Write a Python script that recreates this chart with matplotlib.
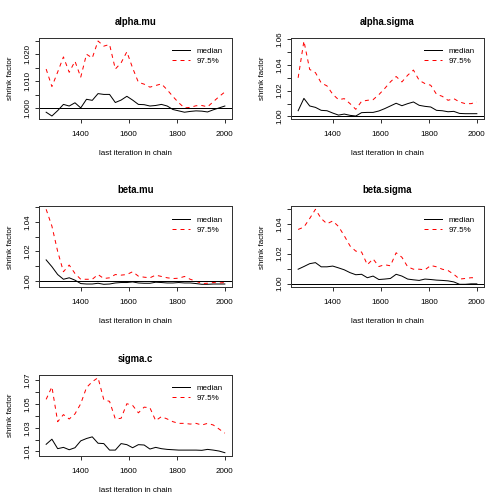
import matplotlib
matplotlib.use("Agg")
import matplotlib.pyplot as plt
import numpy as np

plt.rcParams['font.family'] = ['Liberation Sans', 'DejaVu Sans']

# last iteration in chain
iters = np.arange(1256, 2001, 24)

# shrink factors
alpha_mu_med = [0.9985, 0.9971, 0.9991, 1.0014, 1.0008, 1.0020, 1.0001, 1.0033, 1.0029, 1.0054,
                1.0051, 1.0051, 1.0021, 1.0030, 1.0044, 1.0030, 1.0014, 1.0013, 1.0008, 1.0010,
                1.0014, 1.0008, 0.9995, 0.9990, 0.9985, 0.9988, 0.9990, 0.9989, 0.9986, 0.9994,
                1.0001, 1.0008]
alpha_mu_q97 = [1.0145, 1.0080, 1.0134, 1.0190, 1.0133, 1.0174, 1.0115, 1.0200, 1.0186, 1.0249,
                1.0230, 1.0236, 1.0145, 1.0168, 1.0209, 1.0149, 1.0096, 1.0089, 1.0078, 1.0084,
                1.0090, 1.0068, 1.0043, 1.0020, 1.0001, 1.0003, 1.0009, 1.0010, 1.0005, 1.0024,
                1.0043, 1.0060]

alpha_sigma_med = [1.0044, 1.0140, 1.0081, 1.0070, 1.0047, 1.0044, 1.0026, 1.0010, 1.0018, 1.0008,
                   1.0003, 1.0029, 1.0031, 1.0031, 1.0042, 1.0060, 1.0081, 1.0102, 1.0083, 1.0099,
                   1.0112, 1.0086, 1.0078, 1.0073, 1.0047, 1.0044, 1.0036, 1.0039, 1.0023, 1.0021,
                   1.0021, 1.0021]
alpha_sigma_q97 = [1.0300, 1.0586, 1.0365, 1.0340, 1.0260, 1.0237, 1.0172, 1.0130, 1.0138, 1.0099,
                   1.0055, 1.0117, 1.0125, 1.0130, 1.0169, 1.0216, 1.0268, 1.0310, 1.0268, 1.0320,
                   1.0360, 1.0280, 1.0255, 1.0242, 1.0172, 1.0156, 1.0125, 1.0138, 1.0112, 1.0099,
                   1.0099, 1.0112]

beta_mu_med = [1.0142, 1.0096, 1.0043, 1.0011, 1.0021, 1.0005, 0.9982, 0.9979, 0.9979, 0.9984,
               0.9977, 0.9979, 0.9986, 0.9989, 0.9989, 0.9993, 0.9986, 0.9984, 0.9984, 0.9991,
               0.9989, 0.9986, 0.9986, 0.9989, 0.9986, 0.9986, 0.9982, 0.9977, 0.9977, 0.9979,
               0.9979, 0.9979]
beta_mu_q97 = [1.0484, 1.0370, 1.0199, 1.0062, 1.0107, 1.0050, 1.0011, 1.0011, 1.0011, 1.0043,
               1.0016, 1.0021, 1.0043, 1.0039, 1.0043, 1.0062, 1.0032, 1.0025, 1.0021, 1.0039,
               1.0030, 1.0021, 1.0016, 1.0018, 1.0030, 1.0011, 0.9998, 0.9982, 0.9984, 0.9989,
               0.9986, 0.9989]

beta_sigma_med = [1.0096, 1.0114, 1.0133, 1.0140, 1.0112, 1.0112, 1.0117, 1.0105, 1.0092, 1.0073,
                  1.0059, 1.0062, 1.0039, 1.0050, 1.0027, 1.0030, 1.0034, 1.0062, 1.0050, 1.0030,
                  1.0025, 1.0021, 1.0030, 1.0027, 1.0023, 1.0021, 1.0018, 1.0011, 0.9995, 0.9995,
                  0.9998, 0.9998]
beta_sigma_q97 = [1.0362, 1.0378, 1.0435, 1.0497, 1.0435, 1.0400, 1.0419, 1.0382, 1.0320, 1.0252,
                  1.0217, 1.0211, 1.0126, 1.0165, 1.0114, 1.0126, 1.0119, 1.0206, 1.0176, 1.0112,
                  1.0096, 1.0096, 1.0092, 1.0121, 1.0112, 1.0096, 1.0087, 1.0062, 1.0030, 1.0034,
                  1.0039, 1.0039]

sigma_c_med = [1.0160, 1.0203, 1.0123, 1.0134, 1.0114, 1.0131, 1.0189, 1.0209, 1.0223, 1.0169,
               1.0166, 1.0111, 1.0111, 1.0166, 1.0157, 1.0131, 1.0157, 1.0154, 1.0120, 1.0134,
               1.0123, 1.0117, 1.0114, 1.0111, 1.0111, 1.0111, 1.0111, 1.0109, 1.0117, 1.0111,
               1.0103, 1.0089]
sigma_c_q97 = [1.0540, 1.0646, 1.0351, 1.0411, 1.0374, 1.0417, 1.0503, 1.0640, 1.0689, 1.0723,
               1.0537, 1.0523, 1.0374, 1.0380, 1.0503, 1.0489, 1.0426, 1.0474, 1.0469, 1.0360,
               1.0394, 1.0374, 1.0351, 1.0337, 1.0337, 1.0331, 1.0337, 1.0323, 1.0337, 1.0323,
               1.0289, 1.0254]

names = ['alpha.mu', 'alpha.sigma', 'beta.mu', 'beta.sigma', 'sigma.c']
medians = [alpha_mu_med, alpha_sigma_med, beta_mu_med, beta_sigma_med, sigma_c_med]
uppers = [alpha_mu_q97, alpha_sigma_q97, beta_mu_q97, beta_sigma_q97, sigma_c_q97]

# y tick layout per panel: first tick, step, decimals (every other tick labelled)
ytick_info = [(1.000, 0.005, 3), (1.00, 0.01, 2), (1.00, 0.01, 2), (1.00, 0.01, 2), (1.01, 0.01, 2)]

fig = plt.figure(figsize=(7, 7), dpi=72)

lefts = [39 / 504, 291 / 504]
bottoms = [1 - 119 / 504, 1 - 287.3 / 504, 1 - 455.7 / 504]
w, h = 193 / 504, 81 / 504

for i, name in enumerate(names):
    ax = fig.add_axes([lefts[i % 2], bottoms[i // 2], w, h])
    med = np.array(medians[i])
    upp = np.array(uppers[i])
    ax.plot(iters, med, color='black', lw=1, label='median')
    ax.plot(iters, upp, color='red', lw=1, ls=(0, (4, 4)), label='97.5%')
    ax.axhline(1, color='black', lw=1)

    lo, hi = min(med.min(), upp.min()), max(med.max(), upp.max())
    pad = (hi - lo) * 0.04
    ax.set_ylim(lo - pad, hi + pad)
    ax.set_xlim(iters[0] - 0.04 * (iters[-1] - iters[0]), iters[-1] + 0.04 * (iters[-1] - iters[0]))

    first, step, dec = ytick_info[i]
    yt = np.arange(first, hi + pad + 1e-9, step)
    ax.set_yticks(yt)
    ax.set_yticklabels([('%.' + str(dec) + 'f') % v if k % 2 == 0 else '' for k, v in enumerate(yt)])
    ax.set_xticks([1400, 1600, 1800, 2000])

    ax.tick_params(axis='both', length=4, width=0.8, labelsize=8, direction='out')
    ax.tick_params(axis='x', pad=8)
    ax.tick_params(axis='y', pad=4)
    for lab in ax.get_yticklabels():
        lab.set_rotation(90)
        lab.set_va('center')
    for sp in ax.spines.values():
        sp.set_linewidth(1)
        sp.set_color('#333333')

    ax.set_title(name, fontsize=9.5, fontweight='bold', pad=13)
    ax.set_xlabel('last iteration in chain', fontsize=8, labelpad=12)
    ax.set_ylabel('shrink factor', fontsize=8, labelpad=10)
    ax.legend(loc='upper right', frameon=False, fontsize=8, handlelength=2.2,
              handletextpad=0.8, labelspacing=0.3, borderaxespad=0.8)

plt.savefig('out.png', dpi=72)
